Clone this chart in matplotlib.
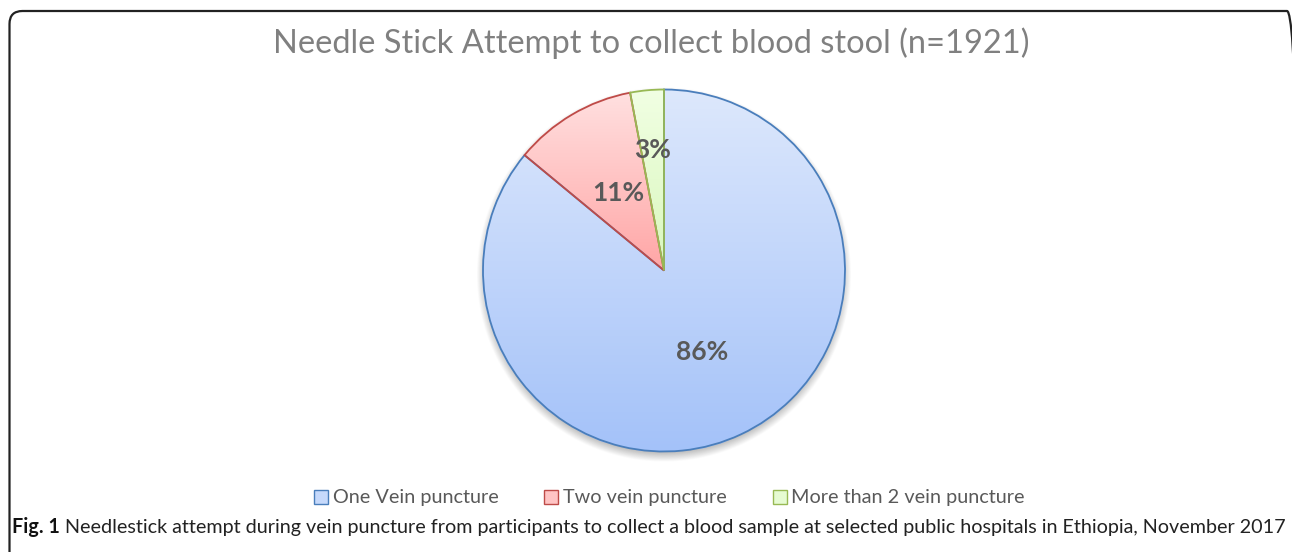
import numpy as np
import matplotlib
matplotlib.use("Agg")
import matplotlib.pyplot as plt
from matplotlib.patches import FancyBboxPatch, Patch
from matplotlib.colors import to_rgb
from matplotlib.transforms import IdentityTransform

# ---- data ----
categories = ["One Vein puncture", "Two vein puncture", "More than 2 vein puncture"]
percentages = [86, 11, 3]
title_text = "Needle Stick Attempt to collect blood stool (n=1921)"
caption_bold = "Fig. 1"
caption_text = ("Needlestick attempt during vein puncture from participants to collect a blood "
                "sample at selected public hospitals in Ethiopia, November 2017")

# ---- styles ----
edge_colors = ["#4a7ebb", "#be4b48", "#98b954"]
grad_top = ["#dde8fc", "#ffe0e0", "#f1ffe3"]
grad_bot = ["#a4c2f9", "#ffa6a6", "#d9f7bd"]
legend_fill = ["#c6d9fb", "#ffc4c4", "#e6fbd2"]

W, H = 1292, 552
fig = plt.figure(figsize=(W / 100, H / 100), dpi=100)
fig.patch.set_facecolor("white")

# rounded border box in pixel coordinates (right/bottom edges run off the image)
box = FancyBboxPatch((9.5, -30), 1300 - 9.5, (H - 11) + 30,
                     boxstyle="round,pad=0,rounding_size=13",
                     transform=IdentityTransform(), facecolor="none",
                     edgecolor="#222222", linewidth=1.6)
fig.patches.append(box)

# pie axes
R = 181.0
cx, cy = 664.0, H - 270.5
L = 1.12
ax = fig.add_axes([(cx - L * R) / W, (cy - L * R) / H, 2 * L * R / W, 2 * L * R / H])
wedges, texts, autotexts = ax.pie(
    percentages, startangle=90, counterclock=False, radius=1.0,
    autopct=lambda p: f"{p:.0f}%", pctdistance=0.5,
    wedgeprops=dict(facecolor="none", linewidth=1.3),
    textprops=dict(fontsize=19, fontweight="bold", color="#595959", family="Lato"))
ax.set_xlim(-L, L)
ax.set_ylim(-L, L)
ax.set_aspect("auto")
ax.axis("off")

# shadow
gx = np.linspace(-L, L, 600)
X, Y = np.meshgrid(gx, gx[::-1])
d = np.hypot(X - 0.0, Y + 0.025)
alpha = np.clip((1.035 - d) / 0.06, 0, 1) * 0.45
sh = np.zeros((600, 600, 4))
sh[..., :3] = 0.35
sh[..., 3] = alpha
ax.imshow(sh, extent=(-L, L, -L, L), zorder=0.5, interpolation="bilinear")

# gradient fills clipped to each wedge
for w, ec, ct, cb in zip(wedges, edge_colors, grad_top, grad_bot):
    w.set_edgecolor(ec)
    w.set_zorder(3)
    bb = w.get_path().get_extents(w.get_patch_transform())
    y0, y1 = bb.y0, bb.y1
    n = 256
    t = np.linspace(0, 1, n)[:, None]
    c0, c1 = np.array(to_rgb(ct)), np.array(to_rgb(cb))
    img = (c0[None, :] * (1 - t) + c1[None, :] * t)[:, None, :]
    im = ax.imshow(img, extent=(-1.01, 1.01, y0, y1), aspect="auto", zorder=2,
                   interpolation="bilinear")
    clip = plt.Polygon(w.get_path().transformed(w.get_patch_transform()).vertices,
                       closed=True, transform=ax.transData)
    im.set_clip_path(clip)
    im.set_clip_on(True)
ax.set_xlim(-L, L)
ax.set_ylim(-L, L)

for t in autotexts:
    t.set_zorder(5)
# move small-slice label outward like the reference
ang = np.deg2rad((wedges[2].theta1 + wedges[2].theta2) / 2)
autotexts[2].set_position((0.67 * np.cos(ang), 0.67 * np.sin(ang)))

# title
fig.text(651 / W, 1 - 43 / H, title_text, ha="center", va="center",
         fontsize=23.5, color="#808080", family="Lato")

# legend
handles = [Patch(facecolor=f, edgecolor=e, linewidth=1.0) for f, e in zip(legend_fill, edge_colors)]
leg = fig.legend(handles, categories, loc="center", bbox_to_anchor=(669.5 / W, 1 - 498 / H),
                 ncol=3, frameon=False, handlelength=0.7, handleheight=0.7,
                 handletextpad=0.25, columnspacing=2.3, prop=dict(family="Lato", size=14.3))
for t in leg.get_texts():
    t.set_color("#595959")

# caption, sized to span the same width as the reference
cap_family = "Lato"
fs = 14
tb = fig.text(12 / W, 1 - 527 / H, caption_bold, ha="left", va="center", fontsize=fs,
              fontweight="bold", color="#111111", family=cap_family)
tc = fig.text(0, 1 - 527 / H, caption_text, ha="left", va="center", fontsize=fs,
              color="#222222", family=cap_family)
fig.canvas.draw()
r = fig.canvas.get_renderer()
total = tb.get_window_extent(r).width + 5 + tc.get_window_extent(r).width
fs2 = fs * (1282 - 5) / (total - 5)
tb.set_fontsize(fs2)
tc.set_fontsize(fs2)
fig.canvas.draw()
bbx = tb.get_window_extent(r)
tc.set_x((bbx.x1 + 5) / W)

fig.savefig("out.png", dpi=100, facecolor="white")
